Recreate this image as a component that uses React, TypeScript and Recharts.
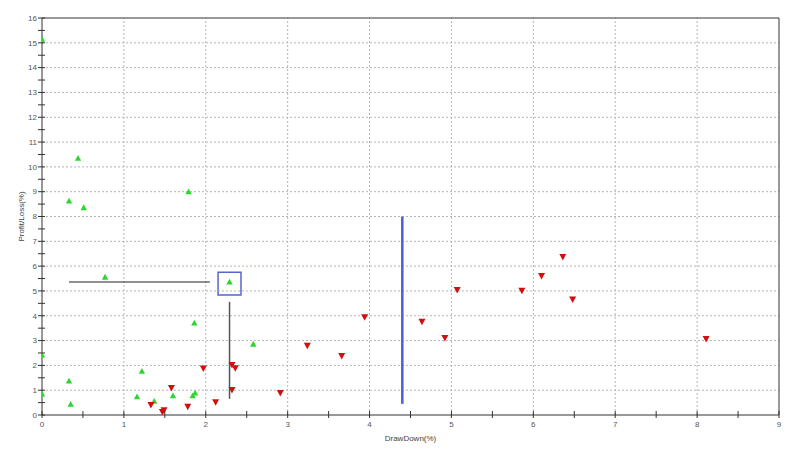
import React from 'react';
import { ScatterChart, Scatter, XAxis, YAxis, ReferenceLine, ReferenceArea } from 'recharts';

// Data: [DrawDown(%), Profit/Loss(%)]
const profitPoints: [number, number][] = [
  [0, 15.15], [0.44, 10.35], [0.33, 8.63], [0.51, 8.36], [0.77, 5.56], [1.79, 9.0],
  [2.29, 5.36], [1.86, 3.71], [2.58, 2.86], [0, 2.42], [0, 0.85], [0.33, 1.37],
  [0.35, 0.44], [1.22, 1.77], [1.16, 0.74], [1.37, 0.56], [1.6, 0.78], [1.84, 0.78], [1.87, 0.89],
];
const lossPoints: [number, number][] = [
  [1.33, 0.4], [1.49, 0.19], [1.47, 0.12], [1.58, 1.09], [1.78, 0.33], [1.97, 1.87],
  [2.12, 0.51], [2.32, 2.02], [2.36, 1.88], [2.32, 1.01], [2.91, 0.89], [3.24, 2.79],
  [3.66, 2.38], [3.94, 3.94], [4.64, 3.76], [4.92, 3.1], [5.07, 5.04], [5.86, 5.01],
  [6.1, 5.6], [6.36, 6.37], [6.48, 4.65], [8.11, 3.06],
];

const xTicks = [0, 0.5, 1, 1.5, 2, 2.5, 3, 3.5, 4, 4.5, 5, 5.5, 6, 6.5, 7, 7.5, 8, 8.5, 9];
const yTicks = [0, 0.5, 1, 1.5, 2, 2.5, 3, 3.5, 4, 4.5, 5, 5.5, 6, 6.5, 7, 7.5, 8, 8.5, 9, 9.5,
  10, 10.5, 11, 11.5, 12, 12.5, 13, 13.5, 14, 14.5, 15, 15.5, 16];
const xGrid = [1, 2, 3, 4, 5, 6, 7, 8];
const yGrid = [1, 2, 3, 4, 5, 6, 7, 8, 9, 10, 11, 12, 13, 14, 15];

// Annotations (data coordinates)
const hLine = [{ x: 0.33, y: 5.36 }, { x: 2.05, y: 5.36 }];
const vLineGrey = [{ x: 2.29, y: 4.56 }, { x: 2.29, y: 0.65 }];
const vLineBlue = [{ x: 4.4, y: 8.0 }, { x: 4.4, y: 0.45 }];
const boxX = [2.15, 2.43];
const boxY = [4.84, 5.75];

const profitData = profitPoints.map(([x, y]) => ({ x, y }));
const lossData = lossPoints.map(([x, y]) => ({ x, y }));

const FONT = 'Liberation Sans, Arial, sans-serif';
const TS = 3;
const TM = 2;

const UpTri = (p: any) => {
  const { cx, cy } = p;
  return <polygon points={`${cx - 3.2},${cy + 2.6} ${cx + 3.2},${cy + 2.6} ${cx},${cy - 3.2}`} fill="#2fd52f" />;
};
const DownTri = (p: any) => {
  const { cx, cy } = p;
  return <polygon points={`${cx - 3.5},${cy - 3} ${cx + 3.5},${cy - 3} ${cx},${cy + 3.5}`} fill="#d01010" />;
};

const YTick = (p: any) => {
  const { x, y, payload } = p;
  const ax = x + TS + TM - 1;
  const isMajor = Number.isInteger(payload.value);
  return (
    <g>
      <line x1={ax - 3} x2={ax + 4} y1={y} y2={y} stroke="#333" strokeWidth={1} />
      {isMajor && (
        <text x={x} y={y} dy="0.35em" textAnchor="end" fontSize={8} fontFamily={FONT} fill="#555">
          {payload.value}
        </text>
      )}
    </g>
  );
};

const XTick = (p: any) => {
  const { x, y, payload } = p;
  const ay = y - TS - TM;
  const isMajor = Number.isInteger(payload.value);
  return (
    <g>
      <line x1={x} x2={x} y1={ay - 4} y2={ay + 3} stroke="#333" strokeWidth={1} />
      {isMajor && (
        <text x={x} y={y + 1} dy="0.71em" textAnchor="middle" fontSize={8} fontFamily={FONT} fill="#555">
          {payload.value}
        </text>
      )}
    </g>
  );
};

const YLabel = (p: any) => {
  const vb = p.viewBox;
  const cx = vb.x + 9;
  const cy = vb.y + vb.height / 2;
  return (
    <text x={cx} y={cy} transform={`rotate(-90, ${cx}, ${cy})`} textAnchor="middle" dy="0.35em"
      fontSize={8} fontFamily={FONT} fill="#444">Profit/Loss(%)</text>
  );
};

const XLabel = (p: any) => {
  const vb = p.viewBox;
  return (
    <text x={vb.x + vb.width / 2} y={vb.y + 26} textAnchor="middle"
      fontSize={8} fontFamily={FONT} fill="#444">DrawDown(%)</text>
  );
};

export default function App() {
  return (
    <div style={{ position: 'absolute', left: 0, top: 0, width: 800, height: 452, background: '#fff' }}>
      <ScatterChart width={800} height={452} margin={{ top: 18, right: 21, bottom: 0, left: 12 }}>
        {xGrid.map((v) => (
          <ReferenceLine key={'gx' + v} x={v} stroke="#b5b5b5" strokeDasharray="2 2" strokeWidth={1} />
        ))}
        {yGrid.map((v) => (
          <ReferenceLine key={'gy' + v} y={v} stroke="#b5b5b5" strokeDasharray="2 2" strokeWidth={1} />
        ))}
        <ReferenceLine y={16} stroke="#333" strokeWidth={1} />
        <ReferenceLine x={9} stroke="#333" strokeWidth={1} />
        <XAxis type="number" dataKey="x" domain={[0, 9]} ticks={xTicks} interval={0} height={37}
          tickSize={TS} tickMargin={TM} tickLine={false} axisLine={{ stroke: '#333' }}
          tick={<XTick />} label={<XLabel />} allowDataOverflow />
        <YAxis type="number" dataKey="y" domain={[0, 16]} ticks={yTicks} interval={0} width={30}
          tickSize={TS} tickMargin={TM} tickLine={false} axisLine={{ stroke: '#333' }}
          tick={<YTick />} label={<YLabel />} allowDataOverflow />
        <ReferenceLine segment={hLine} stroke="#222" strokeWidth={1} />
        <ReferenceLine segment={vLineGrey} stroke="#555" strokeWidth={1.5} />
        <ReferenceLine segment={vLineBlue} stroke="#4a5fd0" strokeWidth={2.5} />
        <ReferenceArea x1={boxX[0]} x2={boxX[1]} y1={boxY[0]} y2={boxY[1]} fill="none"
          fillOpacity={0} stroke="#5566cc" strokeWidth={1.5} />
        <Scatter data={profitData} shape={UpTri} isAnimationActive={false} />
        <Scatter data={lossData} shape={DownTri} isAnimationActive={false} />
      </ScatterChart>
    </div>
  );
}
